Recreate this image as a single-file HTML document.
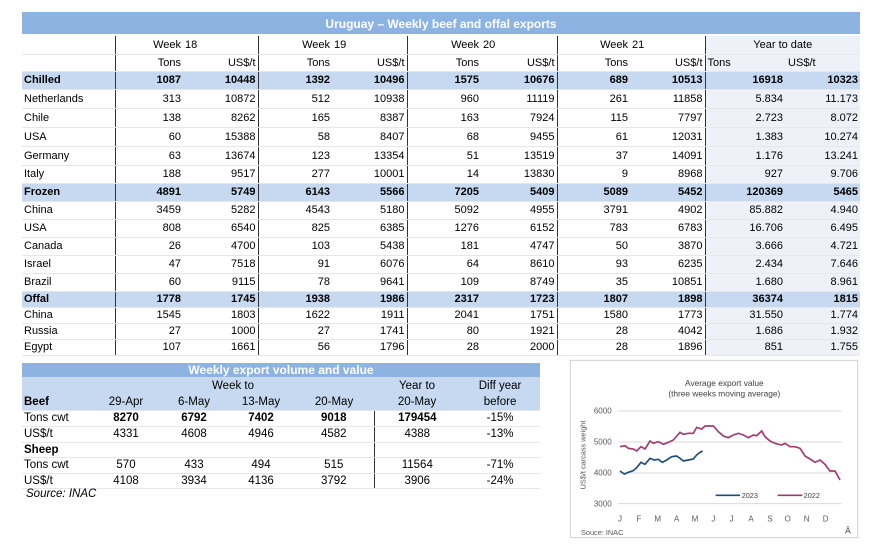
<!DOCTYPE html>
<html><head><meta charset="utf-8"><style>
body{margin:0;width:892px;height:557px;background:#fff;font-family:"Liberation Sans",Arial,sans-serif;font-size:11px;color:#000;position:relative;overflow:hidden}
.a{position:absolute}
table{border-collapse:collapse;position:absolute;table-layout:fixed}
td{padding:0 2px;white-space:nowrap;text-align:right;border-bottom:1px solid #e4e8ee;overflow:hidden}
td.l{text-align:left}
tr.b td{background:#c6d9f0;font-weight:bold}
.v{border-right:1px solid #333}
.y{background:#eef2f8}
</style></head><body>
<div class="a" style="left:22px;top:12px;width:838px;height:22px;background:#8db3e2;color:#fff;font-weight:bold;font-size:12px;text-align:center;line-height:24px">Uruguay – Weekly beef and offal exports</div>
<table style="left:22px;top:36px;width:838px">
<colgroup><col style="width:93px"><col style="width:68px"><col style="width:75px"><col style="width:74px"><col style="width:75px"><col style="width:74px"><col style="width:76px"><col style="width:73px"><col style="width:75px"><col style="width:80px"><col style="width:75px"></colgroup>
<tr style="height:18px"><td class="l v"></td><td>Week</td><td class="l v">18</td><td>Week</td><td class="l v">19</td><td>Week</td><td class="l v">20</td><td>Week</td><td class="l v">21</td><td class="y" colspan="2" style="text-align:center">Year to date</td></tr>
<tr style="height:17px"><td class="l v"></td><td>Tons</td><td class="v">US$/t</td><td>Tons</td><td class="v">US$/t</td><td>Tons</td><td class="v">US$/t</td><td>Tons</td><td class="v">US$/t</td><td class="y l">Tons</td><td class="y l" style="padding-left:0">&nbsp;US$/t</td></tr>
<tr class="b" style="height:18px"><td class="l v">Chilled</td><td>1087</td><td class="v">10448</td><td>1392</td><td class="v">10496</td><td>1575</td><td class="v">10676</td><td>689</td><td class="v">10513</td><td>16918</td><td>10323</td></tr>
<tr style="height:19px"><td class="l v">Netherlands</td><td>313</td><td class="v">10872</td><td>512</td><td class="v">10938</td><td>960</td><td class="v">11119</td><td>261</td><td class="v">11858</td><td class="y">5.834</td><td class="y">11.173</td></tr>
<tr style="height:19px"><td class="l v">Chile</td><td>138</td><td class="v">8262</td><td>165</td><td class="v">8387</td><td>163</td><td class="v">7924</td><td>115</td><td class="v">7797</td><td class="y">2.723</td><td class="y">8.072</td></tr>
<tr style="height:19px"><td class="l v">USA</td><td>60</td><td class="v">15388</td><td>58</td><td class="v">8407</td><td>68</td><td class="v">9455</td><td>61</td><td class="v">12031</td><td class="y">1.383</td><td class="y">10.274</td></tr>
<tr style="height:19px"><td class="l v">Germany</td><td>63</td><td class="v">13674</td><td>123</td><td class="v">13354</td><td>51</td><td class="v">13519</td><td>37</td><td class="v">14091</td><td class="y">1.176</td><td class="y">13.241</td></tr>
<tr style="height:18px"><td class="l v">Italy</td><td>188</td><td class="v">9517</td><td>277</td><td class="v">10001</td><td>14</td><td class="v">13830</td><td>9</td><td class="v">8968</td><td class="y">927</td><td class="y">9.706</td></tr>
<tr class="b" style="height:18px"><td class="l v">Frozen</td><td>4891</td><td class="v">5749</td><td>6143</td><td class="v">5566</td><td>7205</td><td class="v">5409</td><td>5089</td><td class="v">5452</td><td>120369</td><td>5465</td></tr>
<tr style="height:18px"><td class="l v">China</td><td>3459</td><td class="v">5282</td><td>4543</td><td class="v">5180</td><td>5092</td><td class="v">4955</td><td>3791</td><td class="v">4902</td><td class="y">85.882</td><td class="y">4.940</td></tr>
<tr style="height:18px"><td class="l v">USA</td><td>808</td><td class="v">6540</td><td>825</td><td class="v">6385</td><td>1276</td><td class="v">6152</td><td>783</td><td class="v">6783</td><td class="y">16.706</td><td class="y">6.495</td></tr>
<tr style="height:18px"><td class="l v">Canada</td><td>26</td><td class="v">4700</td><td>103</td><td class="v">5438</td><td>181</td><td class="v">4747</td><td>50</td><td class="v">3870</td><td class="y">3.666</td><td class="y">4.721</td></tr>
<tr style="height:18px"><td class="l v">Israel</td><td>47</td><td class="v">7518</td><td>91</td><td class="v">6076</td><td>64</td><td class="v">8610</td><td>93</td><td class="v">6235</td><td class="y">2.434</td><td class="y">7.646</td></tr>
<tr style="height:18px"><td class="l v">Brazil</td><td>60</td><td class="v">9115</td><td>78</td><td class="v">9641</td><td>109</td><td class="v">8749</td><td>35</td><td class="v">10851</td><td class="y">1.680</td><td class="y">8.961</td></tr>
<tr class="b" style="height:16px"><td class="l v">Offal</td><td>1778</td><td class="v">1745</td><td>1938</td><td class="v">1986</td><td>2317</td><td class="v">1723</td><td>1807</td><td class="v">1898</td><td>36374</td><td>1815</td></tr>
<tr style="height:16px"><td class="l v">China</td><td>1545</td><td class="v">1803</td><td>1622</td><td class="v">1911</td><td>2041</td><td class="v">1751</td><td>1580</td><td class="v">1773</td><td class="y">31.550</td><td class="y">1.774</td></tr>
<tr style="height:16px"><td class="l v">Russia</td><td>27</td><td class="v">1000</td><td>27</td><td class="v">1741</td><td>80</td><td class="v">1921</td><td>28</td><td class="v">4042</td><td class="y">1.686</td><td class="y">1.932</td></tr>
<tr style="height:16px"><td class="l v">Egypt</td><td>107</td><td class="v">1661</td><td>56</td><td class="v">1796</td><td>28</td><td class="v">2000</td><td>28</td><td class="v">1896</td><td class="y">851</td><td class="y">1.755</td></tr>
</table>

<div class="a" style="left:22px;top:363px;width:518px;height:14px;background:#8db3e2;color:#fff;font-weight:bold;font-size:12px;text-align:center;line-height:14px">Weekly export volume and value</div>
<table style="left:22px;top:377px;width:518px;font-size:11.5px">
<colgroup><col style="width:70px"><col style="width:68px"><col style="width:68px"><col style="width:66px"><col style="width:80px"><col style="width:86px"><col style="width:80px"></colgroup>
<tr style="height:17px;background:#c6d9f0"><td class="l" style="border:0"></td><td colspan="4" style="text-align:center;border:0">Week to</td><td style="text-align:center;border:0">Year to</td><td style="text-align:center;border:0">Diff year</td></tr>
<tr style="height:16px;background:#c6d9f0"><td class="l" style="font-weight:bold">Beef</td><td style="text-align:center">29-Apr</td><td style="text-align:center">6-May</td><td style="text-align:center">13-May</td><td style="text-align:center">20-May</td><td style="text-align:center">20-May</td><td style="text-align:center">before</td></tr>
<tr style="height:16px"><td class="l">Tons cwt</td><td style="text-align:center;font-weight:bold">8270</td><td style="text-align:center;font-weight:bold">6792</td><td style="text-align:center;font-weight:bold">7402</td><td class="v" style="text-align:center;font-weight:bold">9018</td><td style="text-align:center;font-weight:bold">179454</td><td style="text-align:center">-15%</td></tr>
<tr style="height:16px"><td class="l">US$/t</td><td style="text-align:center">4331</td><td style="text-align:center">4608</td><td style="text-align:center">4946</td><td class="v" style="text-align:center">4582</td><td style="text-align:center">4388</td><td style="text-align:center">-13%</td></tr>
<tr style="height:15px"><td class="l" style="font-weight:bold">Sheep</td><td></td><td></td><td></td><td class="v"></td><td></td><td></td></tr>
<tr style="height:16px"><td class="l">Tons cwt</td><td style="text-align:center">570</td><td style="text-align:center">433</td><td style="text-align:center">494</td><td class="v" style="text-align:center">515</td><td style="text-align:center">11564</td><td style="text-align:center">-71%</td></tr>
<tr style="height:15px"><td class="l">US$/t</td><td style="text-align:center">4108</td><td style="text-align:center">3934</td><td style="text-align:center">4136</td><td class="v" style="text-align:center">3792</td><td style="text-align:center">3906</td><td style="text-align:center">-24%</td></tr>
</table>
<div class="a" style="left:26px;top:488px;font-style:italic;font-size:11.5px">Source: INAC</div>

<svg class="a" style="left:565px;top:355px" width="300" height="190" viewBox="0 0 900 570" font-family="Liberation Sans, Arial, sans-serif">
<rect x="16" y="16" width="862" height="532" fill="#fff" stroke="#d0d0d0" stroke-width="3"/>
<text x="478" y="93" font-size="25" text-anchor="middle" fill="#404040">Average export  value</text>
<text x="478" y="125" font-size="25" text-anchor="middle" fill="#404040">(three  weeks moving average)</text>
<g stroke="#d9d9d9" stroke-width="3"><line x1="160" y1="168" x2="830" y2="168"/><line x1="160" y1="261" x2="830" y2="261"/><line x1="160" y1="354" x2="830" y2="354"/><line x1="160" y1="446" x2="830" y2="446"/></g>
<g font-size="24" fill="#595959" text-anchor="end"><text x="140" y="176">6000</text><text x="140" y="269">5000</text><text x="140" y="362">4000</text><text x="140" y="454">3000</text></g>
<text transform="translate(62,300) rotate(-90)" font-size="22" fill="#595959" text-anchor="middle">US$/t carcass weight</text>
<g font-size="24" fill="#595959" text-anchor="middle"><text x="165" y="500">J</text><text x="222" y="500">F</text><text x="278" y="500">M</text><text x="335" y="500">A</text><text x="390" y="500">M</text><text x="445" y="500">J</text><text x="500" y="500">J</text><text x="558" y="500">A</text><text x="615" y="500">S</text><text x="668" y="500">O</text><text x="725" y="500">N</text><text x="782" y="500">D</text></g>
<text x="48" y="540" font-size="22" fill="#595959">Souce: INAC</text>
<text x="840" y="535" font-size="26" fill="#404040">Ā</text>
<polyline fill="none" stroke="#a23b72" stroke-width="5" points="165,275 180,272 190,280 205,282 215,288 228,275 240,282 255,258 265,265 280,260 295,268 310,262 325,255 345,232 355,238 370,235 385,235 395,217 410,222 420,213 430,213 445,213 460,230 475,243 490,248 505,240 520,235 535,240 550,248 565,240 575,242 590,228 600,245 615,258 630,265 650,270 660,265 675,275 690,275 705,280 720,303 735,312 750,322 765,315 780,328 795,348 810,348 825,375"/>
<polyline fill="none" stroke="#1f4e79" stroke-width="5" points="165,348 178,357 190,352 205,347 215,338 228,322 240,328 255,310 268,315 280,313 292,322 305,315 320,305 335,303 345,310 355,318 370,315 385,312 395,300 405,292 413,288"/>
<line x1="452" y1="421" x2="525" y2="421" stroke="#1f4e79" stroke-width="5"/>
<text x="530" y="429" font-size="22" fill="#404040">2023</text>
<line x1="638" y1="421" x2="712" y2="421" stroke="#a23b72" stroke-width="5"/>
<text x="716" y="429" font-size="22" fill="#404040">2022</text>
</svg>
</body></html>
